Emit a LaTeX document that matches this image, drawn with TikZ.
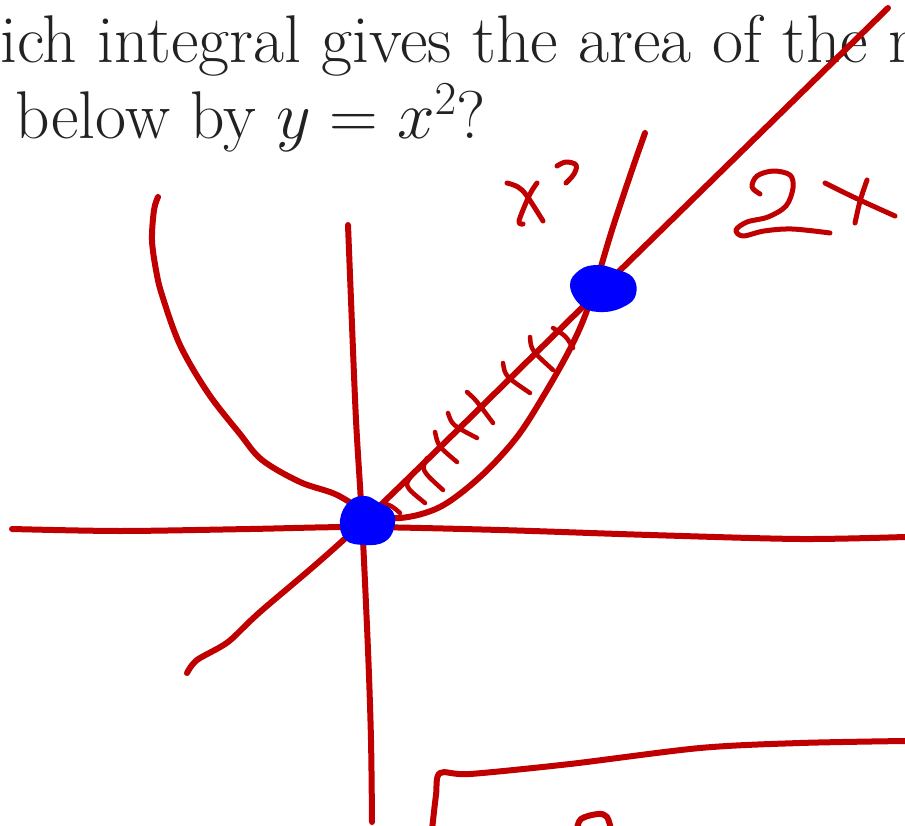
\RequirePackage{fix-cm}
\documentclass[tikz,border=0pt]{standalone}
\usepackage{amsmath}
\definecolor{ink}{RGB}{192,0,0}
\definecolor{dot}{RGB}{0,0,255}
\definecolor{txt}{RGB}{34,34,34}
\begin{document}
\begin{tikzpicture}[x=1pt,y=-1pt,
  pen/.style={draw=ink,line width=6pt,line cap=round,line join=round},
  hatch/.style={draw=ink,line width=4.5pt,line cap=round,line join=round},
  letter/.style={draw=ink,line width=5pt,line cap=round,line join=round},
  blob/.style={fill=dot,draw=dot,line width=2pt,line join=round}]
\useasboundingbox (0,0) rectangle (905,826);
\begin{scope}
\clip (0,0) rectangle (905,826);
\node[anchor=base west,inner sep=0pt,text=txt,font=\fontsize{67.5}{78}\selectfont] (q1) at (0,63) {ich integral gives the area of the re};
\node[anchor=base west,inner sep=0pt,text=txt,font=\fontsize{67.5}{78}\selectfont] (q2) at (15,139) {below by $y=x^2$?};
% horizontal axis
\draw[pen] plot[smooth,tension=0.5] coordinates {(12,529) (120,531) (250,529) (360,527) (500,530) (650,535) (800,539) (905,537)};
% vertical axis
\draw[pen] plot[smooth,tension=0.5] coordinates {(348,225) (351,300) (356,420) (362,520) (368,650) (371,740) (372,822)};
% line y=2x
\draw[pen] plot[smooth,tension=0.5] coordinates {(187,673) (197,660) (228,642) (260,612) (365,520) (600,290) (888,8)};
% parabola
\draw[pen] plot[smooth,tension=0.55] coordinates {(158,197) (154,210) (152,240) (156,270) (162,295) (180,345) (208,393) (240,434) (262,460) (300,482) (335,494) (368,512) (400,518) (440,507) (480,477) (517,437) (547,390) (573,343) (590,302) (612,230) (632,170) (645,133)};
% hatching
\draw[hatch] (383,503) .. controls (392,506) .. (400,513);
\draw[hatch] (412,475) .. controls (404,486) .. (425,503);
\draw[hatch] (427,458) .. controls (421,470) .. (443,490);
\draw[hatch] (435,432) .. controls (438,446) .. (457,462);
\draw[hatch] (448,413) .. controls (452,425) .. (477,438);
\draw[hatch] (467,392) .. controls (476,400) .. (493,423);
\draw[hatch] (503,363) .. controls (505,376) .. (530,393);
\draw[hatch] (530,337) .. controls (531,350) .. (553,370);
\draw[hatch] (553,328) .. controls (566,336) .. (573,348);
% label x^2
\draw[letter] plot[smooth,tension=0.6] coordinates {(507,183) (518,187) (527,196) (543,221)};
\draw[letter] plot[smooth,tension=0.6] coordinates {(537,183) (530,194) (521,215) (519,223) (523,224)};
\draw[letter] plot[smooth,tension=0.6] coordinates {(557,166) (566,162) (576,165) (574,174) (566,183)};
% label 2x
\draw[letter] plot[smooth,tension=0.55] coordinates {(760,194) (752,187) (757,176) (773,171) (790,175) (793,188) (786,206) (768,217) (747,222) (736,230) (743,236) (764,231) (792,229) (830,233)};
\draw[letter] (825,183) .. controls (855,198) .. (895,216);
\draw[letter] (867,180) .. controls (860,200) .. (855,223);
% bottom box
\draw[pen] plot[smooth,tension=0.5] coordinates {(432,830) (436,795) (440,773) (470,774) (570,764) (700,748) (800,743) (905,741)};
\draw[pen] plot[smooth,tension=0.6] coordinates {(577,830) (581,819) (598,814) (607,817) (611,830)};
% blobs
\filldraw[blob] plot[smooth cycle,tension=0.7] coordinates {(341,520) (350,502) (365,497) (378,503) (392,512) (393,528) (384,541) (365,544) (346,539)};
\filldraw[blob] plot[smooth cycle,tension=0.7] coordinates {(571,286) (580,271) (597,266) (615,270) (632,278) (635,294) (625,305) (604,311) (583,306)};
\end{scope}
\end{tikzpicture}
\end{document}
